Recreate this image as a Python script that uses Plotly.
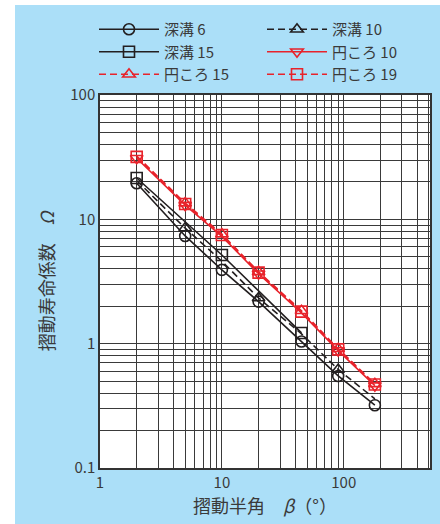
import math
import plotly.graph_objects as go

# ---- data ----
beta = [2, 5, 10, 20, 45, 90, 180]
shinko6 = [19.5, 7.35, 3.92, 2.18, 1.04, 0.55, 0.32]
shinko10 = [20.5, 8.5, 4.6, 2.33, 1.2, 0.62, 0.36]
shinko15 = [21.5, None, 5.17, None, 1.22, None, None]
maru10 = [31.0, 13.0, 7.3, 3.65, 1.77, 0.88, 0.46]
maru15 = [32.3, 13.5, 7.6, 3.78, 1.84, 0.91, 0.475]
maru19 = [31.8, 13.3, 7.49, 3.73, 1.81, 0.90, 0.47]

names = ["深溝 6", "深溝 10", "深溝 15", "円ころ 10", "円ころ 15", "円ころ 19"]

# marker shown (1) / hidden (0) at each point
show6 = [1, 1, 1, 1, 1, 1, 1]
show10 = [0, 1, 0, 1, 0, 1, 0]
show15 = [1, 1, 1, 1, 1, 1, 1]
showm10 = [1, 1, 0, 1, 0, 1, 1]
showm15 = [0, 1, 1, 1, 1, 1, 1]
showm19 = [1, 1, 1, 1, 1, 1, 1]

BLACK = "#231f20"
RED = "#e8232b"
FONT = "Noto Sans CJK JP"
TXT = "#3a3a3a"

series = [
    (names[0], shinko6, show6, BLACK, "solid", "circle-open"),
    (names[1], shinko10, show10, BLACK, "7px,4px", "triangle-up-open"),
    (names[2], shinko15, show15, BLACK, "solid", "square-open"),
    (names[3], maru10, showm10, RED, "solid", "triangle-down-open"),
    (names[4], maru15, showm15, RED, "7px,4px", "triangle-up-open"),
    (names[5], maru19, showm19, RED, "7px,4px", "square-open"),
]

fig = go.Figure()

for name, ys, mask, col, dash, sym in series:
    fig.add_trace(go.Scatter(
        x=beta, y=ys, mode="lines+markers", connectgaps=True,
        showlegend=False, name=name,
        line=dict(color=col, width=1.6, dash=dash),
        marker=dict(symbol=sym, size=11, color=col, opacity=mask,
                    line=dict(color=col, width=1.6)),
    ))

# legend entries
for name, ys, mask, col, dash, sym in series:
    fig.add_trace(go.Scatter(
        x=[None], y=[None], mode="lines+markers", name=name,
        showlegend=True,
        line=dict(color=col, width=1.6, dash=dash),
        marker=dict(symbol=sym, size=11, color=col,
                    line=dict(color=col, width=1.6)),
    ))

def log_ticks(lo_exp, hi_val):
    vals, text = [], []
    e = lo_exp
    while True:
        for m in range(1, 10):
            v = m * 10 ** e
            if v > hi_val * 1.0001:
                return vals, text
            vals.append(v)
            text.append(("%g" % v) if m == 1 else "")
        e += 1

xv, xt = log_ticks(0, 500)
yv, yt = log_ticks(-1, 100)

axis_common = dict(
    type="log", showline=True, mirror=True, linecolor="#333333", linewidth=1.5,
    showgrid=True, gridcolor="#3a3a3a", gridwidth=1, ticks="", zeroline=False,
    tickfont=dict(family=FONT, size=15, color=TXT),
)

fig.update_xaxes(
    range=[0, math.log10(510)], tickmode="array", tickvals=xv, ticktext=xt,
    title=dict(text="摺動半角　<i>β</i>（°）", font=dict(family=FONT, size=18, color=TXT), standoff=5),
    **axis_common,
)
fig.update_yaxes(
    range=[-1, 2], tickmode="array", tickvals=yv, ticktext=yt,
    title=dict(text="摺動寿命係数　<i>Ω</i>", font=dict(family=FONT, size=18, color=TXT), standoff=11),
    **axis_common,
)

W, H = 440, 524
L, R, T, B = 100, 10, 95, 56
pw, ph = W - L - R, H - T - B

def px_x(p):
    return (p - L) / pw

def px_y(p):
    return (H - B - p) / ph

fig.update_layout(
    width=W, height=H,
    margin=dict(l=L, r=R, t=T, b=B, autoexpand=False),
    paper_bgcolor="#abdff8", plot_bgcolor="white",
    font=dict(family=FONT, color=TXT),
    legend=dict(
        orientation="h", x=px_x(94), y=px_y(13), xanchor="left", yanchor="top",
        bgcolor="rgba(0,0,0,0)", font=dict(family=FONT, size=15, color=TXT),
        itemwidth=60, entrywidth=93, entrywidthmode="pixels",
        itemclick=False, itemdoubleclick=False,
    ),
    shapes=[
        dict(type="rect", xref="paper", yref="paper", x0=px_x(0), x1=px_x(15),
             y0=px_y(H), y1=px_y(0), fillcolor="white", line=dict(width=0), layer="below"),
        dict(type="rect", xref="paper", yref="paper", x0=px_x(0), x1=px_x(W),
             y0=px_y(5), y1=px_y(0), fillcolor="white", line=dict(width=0), layer="below"),
    ],
)

fig.write_html("out.html")
